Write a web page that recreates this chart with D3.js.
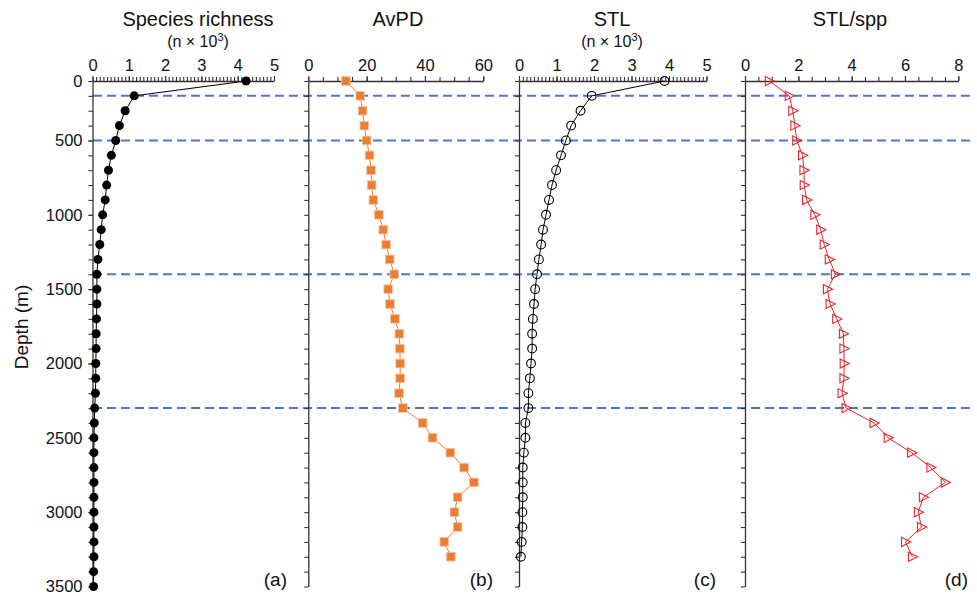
<!DOCTYPE html>
<html>
<head>
<meta charset="utf-8">
<script src="https://cdn.jsdelivr.net/npm/d3@7"></script>
<style>
  html, body { margin: 0; padding: 0; background: #fff; }
  svg { display: block; font-family: "Liberation Sans", Arial, sans-serif; }
</style>
</head>
<body>
<svg id="chart" width="977" height="596"></svg>
<script>
// ---- data ----
const depths = [100, 200, 300, 400, 500, 600, 700, 800, 900, 1000,
  1100, 1200, 1300, 1400, 1500, 1600, 1700, 1800, 1900, 2000,
  2100, 2200, 2300, 2400, 2500, 2600, 2700, 2800, 2900, 3000,
  3100, 3200, 3300, 3400, 3500];
const depthTickValues = [100, 500, 1000, 1500, 2000, 2500, 3000, 3500];
const depthTickLabels = ["0", "500", "1000", "1500", "2000", "2500", "3000", "3500"];
const boundaryDepths = [200, 500, 1400, 2300];

const speciesRichness = [4.23, 1.15, 0.90, 0.74, 0.64, 0.52, 0.44, 0.39, 0.35, 0.28,
  0.24, 0.20, 0.15, 0.12, 0.12, 0.12, 0.11, 0.10, 0.10, 0.09,
  0.09, 0.08, 0.06, 0.05, 0.04, 0.04, 0.04, 0.04, 0.04, 0.04,
  0.04, 0.04, 0.04, 0.03, 0.03];
const avPD = [12.9, 17.8, 18.6, 19.2, 20.0, 21.0, 21.5, 21.7, 22.3, 24.2,
  25.7, 26.7, 27.9, 29.5, 27.4, 28.0, 29.7, 31.2, 31.4, 31.5,
  31.5, 31.1, 32.4, 39.2, 42.6, 48.7, 53.4, 56.8, 51.2, 50.1,
  51.2, 46.6, 48.9];
const stl = [3.88, 1.94, 1.64, 1.39, 1.25, 1.12, 0.99, 0.88, 0.80, 0.72,
  0.64, 0.59, 0.53, 0.48, 0.43, 0.40, 0.37, 0.35, 0.35, 0.32,
  0.29, 0.25, 0.25, 0.17, 0.17, 0.13, 0.10, 0.10, 0.10, 0.09,
  0.09, 0.07, 0.05];
const stlPerSpp = [0.91, 1.66, 1.79, 1.87, 1.94, 2.16, 2.21, 2.22, 2.31, 2.62,
  2.84, 2.97, 3.16, 3.39, 3.09, 3.19, 3.44, 3.69, 3.71, 3.72,
  3.71, 3.64, 3.79, 4.84, 5.37, 6.25, 6.97, 7.51, 6.69, 6.50,
  6.62, 6.02, 6.28];

const panelTitles = ["Species richness", "AvPD", "STL", "STL/spp"];
const panelLetters = ["(a)", "(b)", "(c)", "(d)"];

// ---- layout ----
const svg = d3.select("#chart");
const y = d3.scaleLinear().domain([100, 3500]).range([81, 586.5]);

const panels = [
  { key: "a", values: speciesRichness, domain: [0, 5], range: [92.5, 274], major: [0,1,2,3,4,5], minorStep: 0.1,
    titleX: 198, sub: true, letterX: 287, marker: "dot", color: "#000" },
  { key: "b", values: avPD, domain: [0, 60], range: [308.3, 483.3], major: [0,20,40,60], minorStep: 5,
    titleX: 398, sub: false, letterX: 493, marker: "square", color: "#ED7D31" },
  { key: "c", values: stl, domain: [0, 5], range: [519, 706.5], major: [0,1,2,3,4,5], minorStep: 0.1,
    titleX: 612, sub: true, letterX: 716, marker: "circle", color: "#000" },
  { key: "d", values: stlPerSpp, domain: [0, 8], range: [745, 958.3], major: [0,2,4,6,8], minorStep: 0.5,
    titleX: 850, sub: false, letterX: 968, marker: "triangle", color: "#E8262A" }
];

// dashed boundary lines (behind data)
svg.append("g").selectAll("line").data(boundaryDepths).join("line")
  .attr("x1", 93).attr("x2", 975)
  .attr("y1", d => y(d)).attr("y2", d => y(d))
  .attr("stroke", "#4a78cf").attr("stroke-width", 2)
  .attr("stroke-dasharray", "9,5");

panels.forEach((p, i) => {
  const x = d3.scaleLinear().domain(p.domain).range(p.range);
  const g = svg.append("g");

  // minor top ticks
  const nMinor = Math.round((p.domain[1] - p.domain[0]) / p.minorStep);
  const minorVals = d3.range(nMinor + 1).map(k => +(p.domain[0] + k * p.minorStep).toFixed(4));
  g.append("g").attr("transform", `translate(0,${y(100)})`)
    .call(d3.axisTop(x).tickValues(minorVals).tickSize(4).tickSizeOuter(0).tickFormat(""));
  const topMajor = g.append("g").attr("transform", `translate(0,${y(100)})`)
    .call(d3.axisTop(x).tickValues(p.major).tickSize(5).tickSizeOuter(0).tickPadding(5).tickFormat(d3.format("d")));
  topMajor.select(".domain").remove();

  // left axis
  g.append("g").attr("transform", `translate(${p.range[0]},0)`)
    .call(d3.axisLeft(y).tickValues(depths).tickSize(4).tickSizeOuter(0).tickFormat(""));
  if (i === 0) {
    const leftMajor = g.append("g").attr("transform", `translate(${p.range[0]},0)`)
      .call(d3.axisLeft(y).tickValues(depthTickValues).tickSize(4).tickPadding(6)
        .tickFormat((d, k) => depthTickLabels[k]));
    leftMajor.select(".domain").remove();
  }

  g.selectAll(".domain").attr("stroke", "#333").attr("stroke-width", 1.3);
  g.selectAll(".tick line").attr("stroke", "#333").attr("stroke-width", 1.1);
  g.selectAll(".tick text").attr("font-size", 16.5).attr("fill", "#111")
    .attr("font-family", "'Liberation Sans', Arial, sans-serif");

  // title
  svg.append("text").attr("x", p.titleX).attr("y", 26).attr("text-anchor", "middle")
    .attr("font-size", 20).attr("fill", "#111").text(panelTitles[i]);
  if (p.sub) {
    const t = svg.append("text").attr("x", p.titleX).attr("y", 47).attr("text-anchor", "middle")
      .attr("font-size", 16).attr("fill", "#111");
    t.append("tspan").text("(n × 10");
    t.append("tspan").attr("font-size", 11).attr("dy", -6).text("3");
    t.append("tspan").attr("dy", 6).text(")");
  }
  // panel letter
  svg.append("text").attr("x", p.letterX).attr("y", 586).attr("text-anchor", "end")
    .attr("font-size", 19).attr("fill", "#111").text(panelLetters[i]);

  // data
  const pts = p.values.map((v, k) => [x(v), y(depths[k])]);
  g.append("path").attr("d", d3.line()(pts)).attr("fill", "none")
    .attr("stroke", p.color).attr("stroke-width", 1);

  const m = g.append("g");
  if (p.marker === "dot") {
    m.selectAll("circle").data(pts).join("circle")
      .attr("cx", d => d[0]).attr("cy", d => d[1]).attr("r", 4.5).attr("fill", "#000");
  } else if (p.marker === "square") {
    m.selectAll("rect").data(pts).join("rect")
      .attr("x", d => d[0] - 4.3).attr("y", d => d[1] - 4.3).attr("width", 8.6).attr("height", 8.6)
      .attr("fill", "#ED7D31").attr("stroke", "#f6c4a2").attr("stroke-width", 0.8);
  } else if (p.marker === "circle") {
    m.selectAll("circle").data(pts).join("circle")
      .attr("cx", d => d[0]).attr("cy", d => d[1]).attr("r", 4.4)
      .attr("fill", "none").attr("stroke", "#000").attr("stroke-width", 1.1);
  } else {
    m.selectAll("path").data(pts).join("path")
      .attr("transform", d => `translate(${d[0]},${d[1]})`)
      .attr("d", "M-4,-4.6L5.2,0L-4,4.6Z")
      .attr("fill", "none").attr("stroke", p.color).attr("stroke-width", 1.1);
  }
});

// y axis title
svg.append("text").attr("transform", "translate(28,327) rotate(-90)")
  .attr("text-anchor", "middle").attr("font-size", 19).attr("fill", "#111").text("Depth (m)");
</script>
</body>
</html>
